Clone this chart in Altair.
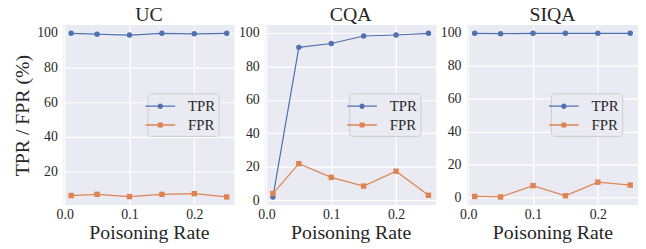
import altair as alt
import pandas as pd

rates = [0.01, 0.05, 0.10, 0.15, 0.20, 0.25]
datasets = ["UC", "CQA", "SIQA"]
metrics = ["TPR", "FPR"]
tpr = {
    "UC": [99.8, 99.3, 98.8, 99.8, 99.5, 99.8],
    "CQA": [1.9, 91.4, 93.7, 98.2, 98.8, 99.8],
    "SIQA": [99.8, 99.6, 99.8, 99.8, 99.8, 99.8],
}
fpr = {
    "UC": [6.1, 6.8, 5.5, 6.8, 7.2, 5.3],
    "CQA": [3.9, 21.8, 13.6, 8.4, 17.3, 2.9],
    "SIQA": [0.4, 0.1, 7.0, 0.8, 9.1, 7.3],
}
x_ticks = [0.0, 0.1, 0.2]

rows = []
for ds in datasets:
    for r, t, f in zip(rates, tpr[ds], fpr[ds]):
        rows.append(dict(dataset=ds, rate=r, metric="TPR", value=t))
        rows.append(dict(dataset=ds, rate=r, metric="FPR", value=f))
df = pd.DataFrame(rows)

colors = ["#4c72b0", "#dd8452"]
FONT = "Liberation Serif"
TXT = "#262626"

# legend glyphs (unit = 10px at symbolSize 400): 30px line with marker
tpr_path = "M-1.5,-0.065H1.5V0.065H-1.5Z M-0.27,0A0.27,0.27 0 1,1 0.27,0A0.27,0.27 0 1,1 -0.27,0Z"
fpr_path = "M-1.5,-0.065H1.5V0.065H-1.5Z M-0.25,-0.25H0.25V0.25H-0.25Z"


def make_legend():
    return alt.Legend(
        title=None,
        orient="none",
        legendX=85,
        legendY=69,
        symbolSize=400,
        symbolStrokeWidth=0,
        symbolOpacity=1,
        labelFont=FONT,
        labelFontSize=15,
        labelColor=TXT,
        labelOffset=18,
        padding=3,
        rowPadding=1,
        fillColor="#eaeaf2",
        strokeColor="#cccccc",
        cornerRadius=3,
    )


def panel(ds, first):
    sub = df[df.dataset == ds]
    lo, hi = sub.value.min(), sub.value.max()
    m = (hi - lo) * 0.05
    xenc = alt.X(
        "rate:Q",
        scale=alt.Scale(domain=[-0.002, 0.262], nice=False, zero=False),
        axis=alt.Axis(values=x_ticks, format=".1f", title="Poisoning Rate",
                      labelFont=FONT, titleFont=FONT, labelPadding=3, titlePadding=1),
    )
    yenc = alt.Y(
        "value:Q",
        scale=alt.Scale(domain=[lo - m, hi + m], nice=False, zero=False),
        axis=alt.Axis(tickCount=5, title="TPR / FPR (%)" if first else None,
                      labelFont=FONT, titleFont=FONT, labelPadding=6),
    )
    cscale = alt.Scale(domain=metrics, range=colors)
    base = alt.Chart(sub).encode(x=xenc, y=yenc)
    # legend-only layer (no rows drawn)
    leg = (
        base.transform_filter("false")
        .mark_point(filled=True, opacity=1)
        .encode(
            color=alt.Color("metric:N", scale=cscale, legend=make_legend()),
            shape=alt.Shape(
                "metric:N",
                scale=alt.Scale(domain=metrics, range=[tpr_path, fpr_path]),
                legend=make_legend(),
            ),
        )
    )
    line = base.mark_line(strokeWidth=1.2).encode(
        color=alt.Color("metric:N", scale=cscale, legend=None)
    )
    p1 = (
        base.transform_filter(alt.datum.metric == "TPR")
        .mark_point(filled=True, size=30, opacity=1, shape="circle")
        .encode(color=alt.Color("metric:N", scale=cscale, legend=None))
    )
    p2 = (
        base.transform_filter(alt.datum.metric == "FPR")
        .mark_point(filled=True, size=30, opacity=1, shape="square")
        .encode(color=alt.Color("metric:N", scale=cscale, legend=None))
    )
    return alt.layer(leg, line, p1, p2).properties(
        width=173,
        height=182,
        title=alt.TitleParams(ds, font=FONT, fontSize=20, fontWeight="normal", color=TXT, offset=0),
    )


chart = (
    alt.hconcat(*[panel(ds, i == 0) for i, ds in enumerate(datasets)], spacing=4)
    .resolve_scale(y="independent", color="independent", shape="independent")
    .resolve_legend(color="independent", shape="independent")
    .properties(padding={"left": 5, "top": -4, "right": 0, "bottom": 0}, background="white")
    .configure(font=FONT)
    .configure_view(fill="#eaeaf2", stroke=None)
    .configure_legend(strokeWidth=1)
    .configure_axis(
        grid=True,
        gridColor="white",
        gridWidth=1.2,
        domain=False,
        ticks=False,
        labelFont=FONT,
        labelFontSize=14,
        labelColor=TXT,
        titleFont=FONT,
        titleFontSize=20,
        titleFontWeight="normal",
        titleColor=TXT,
    )
)

chart.save("out.html", embed_options={"renderer": "svg", "actions": False})
